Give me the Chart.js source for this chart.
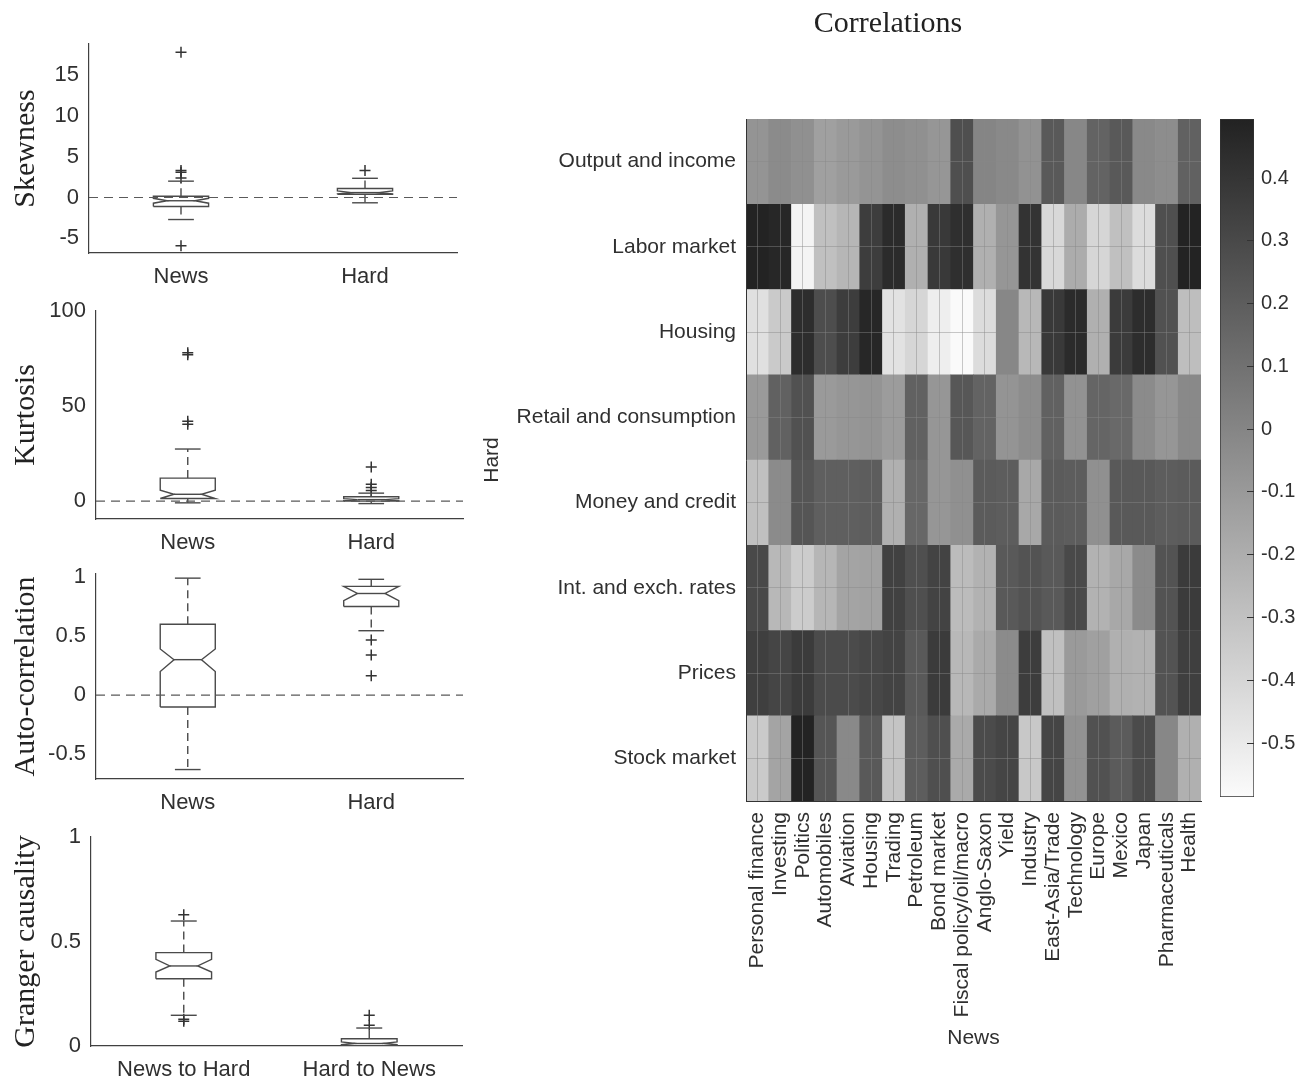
<!DOCTYPE html>
<html>
<head>
<meta charset="utf-8">
<script src="https://cdn.jsdelivr.net/npm/chart.js@4.4.1/dist/chart.umd.min.js"></script>
<style>
html,body{margin:0;padding:0;background:#fff;}
#wrap{position:relative;width:1306px;height:1084px;overflow:hidden;background:#fff;}
#wrap canvas{position:absolute;}
</style>
</head>
<body>
<div id="wrap">
<canvas id="cSkew"></canvas>
<canvas id="cKurt"></canvas>
<canvas id="cAuto"></canvas>
<canvas id="cGranger"></canvas>
<canvas id="cHeat"></canvas>
<canvas id="cBar"></canvas>
</div>
<script>
// ---------------- DATA ----------------
const boxCats = ['News', 'Hard'];
const grangerCats = ['News to Hard', 'Hard to News'];

// Skewness
const skewQ1 = [-1.1, 0.4];
const skewMedian = [-0.4, 0.6];
const skewQ3 = [0.15, 1.1];
const skewNotchLo = [-0.7, 0.45];
const skewNotchHi = [-0.1, 0.8];
const skewWhiskerLo = [-2.7, -0.65];
const skewWhiskerHi = [2.0, 2.35];
const skewOutliers = [[17.8, 3.3, 3.1, 2.4, -5.9], [3.3]];
const skewTicks = [-5, 0, 5, 10, 15];

// Kurtosis
const kurtQ1 = [1.4, 0.0];
const kurtMedian = [3.6, 0.8];
const kurtQ3 = [12.1, 2.3];
const kurtNotchLo = [1.4, 0.3];
const kurtNotchHi = [5.7, 1.3];
const kurtWhiskerLo = [-0.9, -1.3];
const kurtWhiskerHi = [27.4, 4.2];
const kurtOutliers = [[78, 77, 42, 40.5], [17.9, 8.9, 7.2, 5.6]];
const kurtTicks = [0, 50, 100];

// Auto-correlation
const autoQ1 = [-0.1, 0.75];
const autoMedian = [0.3, 0.86];
const autoQ3 = [0.6, 0.92];
const autoNotchLo = [0.2, 0.8];
const autoNotchHi = [0.39, 0.92];
const autoWhiskerLo = [-0.63, 0.545];
const autoWhiskerHi = [0.99, 0.98];
const autoOutliers = [[], [0.466, 0.339, 0.164]];
const autoTicks = [-0.5, 0, 0.5, 1];

// Granger causality
const grangerQ1 = [0.322, 0.002];
const grangerMedian = [0.383, 0.012];
const grangerQ3 = [0.447, 0.035];
const grangerNotchLo = [0.354, 0.006];
const grangerNotchHi = [0.415, 0.02];
const grangerWhiskerLo = [0.147, 0.0];
const grangerWhiskerHi = [0.598, 0.086];
const grangerOutliers = [[0.628, 0.128, 0.118], [0.147, 0.099]];
const grangerTicks = [0, 0.5, 1];

// Heatmap
const newsTopics = ['Personal finance', 'Investing', 'Politics', 'Automobiles', 'Aviation', 'Housing', 'Trading',
  'Petroleum', 'Bond market', 'Fiscal policy/oil/macro', 'Anglo-Saxon', 'Yield', 'Industry', 'East-Asia/Trade',
  'Technology', 'Europe', 'Mexico', 'Japan', 'Pharmaceuticals', 'Health'];
const hardCategories = ['Output and income', 'Labor market', 'Housing', 'Retail and consumption',
  'Money and credit', 'Int. and exch. rates', 'Prices', 'Stock market'];

const corrOutputIncome = [-0.07, -0.03, -0.05, -0.13, -0.10, -0.07, -0.04, -0.05, -0.08, 0.27, 0.00, -0.02, -0.06, 0.22, -0.01, 0.17, 0.22, -0.02, -0.04, 0.18];
const corrLaborMarket  = [0.49, 0.47, -0.55, -0.29, -0.24, 0.36, 0.45, -0.21, 0.38, 0.43, -0.21, -0.08, 0.41, -0.41, -0.19, -0.40, -0.29, -0.43, 0.27, 0.49];
const corrHousing      = [-0.45, -0.34, 0.44, 0.28, 0.36, 0.47, -0.46, -0.40, -0.52, -0.58, -0.43, -0.01, -0.25, 0.38, 0.45, -0.21, 0.37, 0.44, 0.26, -0.28];
const corrRetail       = [-0.10, 0.18, 0.26, -0.10, -0.08, -0.07, -0.11, 0.18, -0.08, 0.23, 0.17, -0.07, -0.04, 0.18, -0.06, 0.16, 0.14, -0.03, -0.08, -0.02];
const corrMoneyCredit  = [-0.29, -0.03, 0.24, 0.19, 0.19, 0.20, -0.21, 0.15, -0.08, -0.05, 0.21, 0.20, -0.17, 0.21, 0.20, -0.05, 0.22, 0.22, 0.20, 0.21];
const corrRates        = [0.30, -0.25, -0.35, -0.24, -0.15, -0.14, 0.34, 0.27, 0.33, -0.27, -0.22, 0.22, 0.25, 0.22, 0.30, -0.22, -0.17, -0.03, 0.25, 0.37];
const corrPrices       = [0.35, 0.32, 0.37, 0.29, 0.29, 0.31, 0.33, 0.22, 0.37, -0.25, -0.18, -0.03, 0.36, -0.29, -0.10, -0.13, -0.21, -0.22, 0.25, 0.35];
const corrStockMarket  = [-0.34, -0.15, 0.49, 0.24, -0.02, 0.22, -0.31, 0.20, 0.27, -0.18, 0.29, 0.32, -0.33, 0.32, -0.06, 0.26, 0.21, 0.29, -0.01, -0.21];

const colorbarMin = -0.586;
const colorbarMax = 0.494;
const colorbarTicks = [-0.5, -0.4, -0.3, -0.2, -0.1, 0, 0.1, 0.2, 0.3, 0.4];

// ---------------- STYLE ----------------
const SANS = '"Liberation Sans", Arial, Helvetica, sans-serif';
const SERIF = '"Liberation Serif", "Times New Roman", serif';
const TXT = '#303030';
const AXIS = '#404040';
const LINE = '#4a4a4a';
const BOX_HALF = 0.15;
const CAP_HALF = 0.07;

function grayFor(v) {
  let g = Math.round(34 + (colorbarMax - v) / 0.004968);
  g = Math.max(0, Math.min(255, g));
  return 'rgb(' + g + ',' + g + ',' + g + ')';
}

function boxDatasets(q1, med, q3, nlo, nhi, wlo, whi, outl) {
  const solid = {showLine: true, borderColor: LINE, borderWidth: 1.4, pointRadius: 0, fill: false};
  const dashed = Object.assign({}, solid, {borderDash: [8, 5]});
  const W = BOX_HALF, N = BOX_HALF / 2, C = CAP_HALF;
  const ds = [];
  for (let i = 0; i < q1.length; i++) {
    const x = i + 1;
    ds.push(Object.assign({data: [
      {x: x - W, y: q1[i]}, {x: x - W, y: nlo[i]}, {x: x - N, y: med[i]}, {x: x - W, y: nhi[i]}, {x: x - W, y: q3[i]},
      {x: x + W, y: q3[i]}, {x: x + W, y: nhi[i]}, {x: x + N, y: med[i]}, {x: x + W, y: nlo[i]}, {x: x + W, y: q1[i]},
      {x: x - W, y: q1[i]}]}, solid));
    ds.push(Object.assign({data: [{x: x - N, y: med[i]}, {x: x + N, y: med[i]}]}, solid));
    ds.push(Object.assign({data: [{x: x, y: q3[i]}, {x: x, y: whi[i]}]}, dashed));
    ds.push(Object.assign({data: [{x: x, y: q1[i]}, {x: x, y: wlo[i]}]}, dashed));
    ds.push(Object.assign({data: [{x: x - C, y: whi[i]}, {x: x + C, y: whi[i]}]}, solid));
    ds.push(Object.assign({data: [{x: x - C, y: wlo[i]}, {x: x + C, y: wlo[i]}]}, solid));
    ds.push({data: outl[i].map(v => ({x: x, y: v})), showLine: false, pointStyle: 'cross',
      pointRadius: 5.5, pointBorderColor: '#333', pointBorderWidth: 1.5, pointBackgroundColor: '#333'});
  }
  return ds;
}

function zeroLine(show) {
  if (!show) return [];
  return [{data: [{x: 0.5, y: 0}, {x: 2.5, y: 0}], showLine: true, borderColor: '#5a5a5a', borderWidth: 1.1,
    borderDash: [9, 6], pointRadius: 0, fill: false}];
}

function boxChart(id, cats, datasets, yMin, yMax, yTicks, yTitle, g) {
  const cv = document.getElementById(id);
  const top = g.T - 24;
  const h = g.B - top + g.xH;
  cv.width = 480; cv.height = h;
  cv.style.left = '0px'; cv.style.top = top + 'px';
  cv.style.width = '480px'; cv.style.height = h + 'px';
  return new Chart(cv, {
    type: 'scatter',
    data: {datasets: datasets},
    options: {
      responsive: false, animation: false, devicePixelRatio: 1,
      layout: {padding: {left: 0, right: 480 - g.R, top: 24, bottom: 0}},
      plugins: {legend: {display: false}, tooltip: {enabled: false}, title: {display: false}},
      elements: {line: {tension: 0}},
      scales: {
        x: {
          type: 'linear', min: 0.5, max: 2.5,
          afterBuildTicks: s => { s.ticks = cats.map((_, i) => ({value: i + 1})); },
          afterFit: s => { s.height = g.xH; },
          ticks: {callback: (v, i) => cats[i], font: {family: SANS, size: 22}, color: TXT, padding: 11,
            autoSkip: false, maxRotation: 0, minRotation: 0},
          grid: {display: false, drawTicks: false},
          border: {display: true, color: AXIS, width: 1.2}
        },
        y: {
          type: 'linear', min: yMin, max: yMax,
          afterBuildTicks: s => { s.ticks = yTicks.map(v => ({value: v})); },
          afterFit: s => { s.width = g.L; },
          ticks: {callback: v => String(v), font: {family: SANS, size: 22}, color: TXT, padding: 10},
          grid: {display: false, drawTicks: false},
          border: {display: true, color: AXIS, width: 1.2},
          title: {display: true, text: yTitle, font: {family: SERIF, size: 30}, color: '#222',
            padding: {top: 8, bottom: 0}}
        }
      }
    }
  });
}

boxChart('cSkew', boxCats,
  zeroLine(true).concat(boxDatasets(skewQ1, skewMedian, skewQ3, skewNotchLo, skewNotchHi, skewWhiskerLo, skewWhiskerHi, skewOutliers)),
  -6.8, 18.8, skewTicks, 'Skewness', {L: 89, R: 457, T: 44, B: 253, xH: 48});
boxChart('cKurt', boxCats,
  zeroLine(true).concat(boxDatasets(kurtQ1, kurtMedian, kurtQ3, kurtNotchLo, kurtNotchHi, kurtWhiskerLo, kurtWhiskerHi, kurtOutliers)),
  -9.4, 100, kurtTicks, 'Kurtosis', {L: 96, R: 463, T: 311, B: 519, xH: 48});
boxChart('cAuto', boxCats,
  zeroLine(true).concat(boxDatasets(autoQ1, autoMedian, autoQ3, autoNotchLo, autoNotchHi, autoWhiskerLo, autoWhiskerHi, autoOutliers)),
  -0.71, 1.025, autoTicks, 'Auto-correlation', {L: 96, R: 463, T: 574, B: 779, xH: 48});
boxChart('cGranger', grangerCats,
  boxDatasets(grangerQ1, grangerMedian, grangerQ3, grangerNotchLo, grangerNotchHi, grangerWhiskerLo, grangerWhiskerHi, grangerOutliers),
  0, 1, grangerTicks, 'Granger causality', {L: 91, R: 462, T: 837, B: 1046, xH: 38});

// ---------------- HEATMAP ----------------
const corrMatrix = [corrOutputIncome, corrLaborMarket, corrHousing, corrRetail, corrMoneyCredit, corrRates, corrPrices, corrStockMarket];
(function () {
  const cv = document.getElementById('cHeat');
  const X0 = 480, W = 826, H = 1084;
  const areaL = 746, areaR = 1201, areaB = 801;
  cv.width = W; cv.height = H;
  cv.style.left = X0 + 'px'; cv.style.top = '0px';
  cv.style.width = W + 'px'; cv.style.height = H + 'px';
  const GRIDC = 'rgba(135,135,135,0.45)';
  const rowsBottomUp = corrMatrix.slice().reverse();
  const datasets = rowsBottomUp.map(row => ({
    data: row.map(() => 1),
    backgroundColor: row.map(grayFor),
    borderWidth: 0,
    barPercentage: 1,
    categoryPercentage: 1
  }));
  new Chart(cv, {
    type: 'bar',
    data: {labels: newsTopics, datasets: datasets},
    options: {
      responsive: false, animation: false, devicePixelRatio: 1,
      layout: {padding: {left: 0, right: 10, top: 0, bottom: 0}},
      plugins: {
        legend: {display: false}, tooltip: {enabled: false},
        title: {display: true, text: 'Correlations', font: {family: SERIF, size: 30, weight: 'normal'},
          color: '#222', padding: {top: 6, bottom: 77}}
      },
      scales: {
        x: {
          type: 'category', stacked: true, offset: true,
          afterFit: s => { s.height = H - areaB; },
          ticks: {autoSkip: false, maxRotation: 90, minRotation: 90, font: {family: SANS, size: 21},
            color: TXT, padding: 11},
          grid: {display: true, offset: false, color: GRIDC, drawTicks: false, z: 1},
          border: {display: true, color: '#333', width: 1, z: 2},
          title: {display: true, text: 'News', font: {family: SANS, size: 21}, color: TXT,
            padding: {top: 0, bottom: 33}}
        },
        y: {
          type: 'linear', stacked: true, min: 0, max: hardCategories.length,
          afterBuildTicks: s => { s.ticks = hardCategories.map((_, i) => ({value: i + 0.5})); },
          afterFit: s => { s.width = areaL - X0; },
          ticks: {callback: (v, i) => hardCategories[hardCategories.length - 1 - i],
            font: {family: SANS, size: 21}, color: TXT, padding: 10},
          grid: {display: true, color: GRIDC, drawTicks: false, z: 1},
          border: {display: true, color: '#333', width: 1, z: 2},
          title: {display: true, text: 'Hard', font: {family: SANS, size: 21}, color: TXT,
            padding: {top: 0, bottom: 0}}
        },
        yPad: {
          type: 'linear', position: 'right', display: true,
          afterFit: s => { s.width = (W - 10) - (areaR - X0); },
          ticks: {display: false}, grid: {display: false, drawTicks: false}, border: {display: false}
        }
      }
    }
  });
})();

// ---------------- COLORBAR ----------------
(function () {
  const cv = document.getElementById('cBar');
  const X0 = 1190, Y0 = 90, W = 116, H = 730;
  const L = 1220, R = 1254, T = 119, B = 797;
  cv.width = W; cv.height = H;
  cv.style.left = X0 + 'px'; cv.style.top = Y0 + 'px';
  cv.style.width = W + 'px'; cv.style.height = H + 'px';
  new Chart(cv, {
    type: 'bar',
    data: {labels: [''], datasets: [{
      data: [[colorbarMin, colorbarMax]],
      backgroundColor: ctx => {
        const ch = ctx.chart, ca = ch.chartArea;
        if (!ca) return '#888';
        const gr = ch.ctx.createLinearGradient(0, ca.bottom, 0, ca.top);
        gr.addColorStop(0, grayFor(colorbarMin));
        gr.addColorStop(1, grayFor(colorbarMax));
        return gr;
      },
      borderColor: '#333', borderWidth: 1, borderSkipped: false,
      barPercentage: 1, categoryPercentage: 1
    }]},
    options: {
      responsive: false, animation: false, devicePixelRatio: 1,
      layout: {padding: {left: L - X0, right: 0, top: T - Y0, bottom: (Y0 + H) - B}},
      plugins: {legend: {display: false}, tooltip: {enabled: false}},
      scales: {
        x: {display: false, offset: true},
        y: {
          position: 'right', min: colorbarMin, max: colorbarMax,
          afterBuildTicks: s => { s.ticks = colorbarTicks.map(v => ({value: v})); },
          afterFit: s => { s.width = (X0 + W) - R; },
          ticks: {callback: v => String(v), font: {family: SANS, size: 20}, color: TXT, padding: 7},
          grid: {display: true, drawTicks: false, lineWidth: 1, z: 1,
            color: ctx => {
              const ch = ctx.chart, ca = ch.chartArea;
              if (!ca) return 'rgba(0,0,0,0)';
              const gr = ch.ctx.createLinearGradient(ca.left, 0, ca.right, 0);
              gr.addColorStop(0, 'rgba(0,0,0,0)');
              gr.addColorStop(0.78, 'rgba(0,0,0,0)');
              gr.addColorStop(0.79, '#333');
              gr.addColorStop(1, '#333');
              return gr;
            }},
          border: {display: false}
        }
      }
    }
  });
})();
</script>
</body>
</html>
